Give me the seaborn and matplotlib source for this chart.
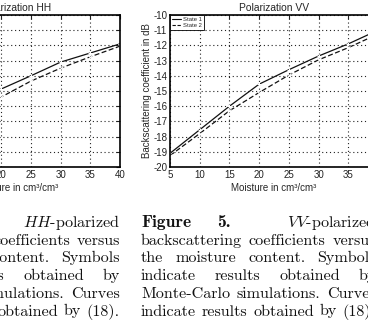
import numpy as np
import pandas as pd
import seaborn as sns
import matplotlib.pyplot as plt
from matplotlib.lines import Line2D

# --------------------------- DATA ---------------------------
moisture = [5, 10, 15, 20, 25, 30, 35, 40]
hh_state1 = [-19.4, -17.6, -16.1, -14.87, -14.0, -13.1, -12.5, -11.9]
hh_state2 = [-19.6, -17.9, -16.5, -15.4, -14.35, -13.5, -12.75, -12.05]
vv_state1 = [-19.1, -17.55, -16.0, -14.55, -13.6, -12.7, -11.9, -11.0]
vv_state2 = [-19.25, -17.8, -16.3, -15.1, -13.95, -12.95, -12.15, -11.25]
states = ['State 1', 'State 2']
x_ticks = [5, 10, 15, 20, 25, 30, 35, 40]
y_ticks = [-20, -19, -18, -17, -16, -15, -14, -13, -12, -11, -10]

# caption text (same body for both figures, justified lines)
caption_body = [
    'backscattering coefficients versus',
    'the moisture content. Symbols',
    'indicate results obtained by',
    'Monte-Carlo simulations. Curves',
    'indicate results obtained by (18).',
]
caption_head_left = ['Figure', '4.', '$HH$-polarized']
caption_head_right = ['Figure', '5.', '$VV$-polarized']

# --------------------------- STYLE ---------------------------
sns.set_style('white')
plt.rcParams['font.family'] = ['Liberation Sans', 'DejaVu Sans']
plt.rcParams['axes.unicode_minus'] = False
plt.rcParams['mathtext.fontset'] = 'cm'

W, H = 368, 324
fig = plt.figure(figsize=(W / 100, H / 100), dpi=100)


def px_axes(x0, x1, y_top, y_bot):
    return fig.add_axes([x0 / W, 1 - y_bot / H, (x1 - x0) / W, (y_bot - y_top) / H])


def draw_panel(ax, s1, s2, title):
    df = pd.DataFrame({
        'Moisture': moisture * 2,
        'Coef': s1 + s2,
        'State': [states[0]] * len(moisture) + [states[1]] * len(moisture),
    })
    sns.lineplot(data=df, x='Moisture', y='Coef', hue='State', style='State',
                 palette=['#111111', '#111111'], markers=['+', 'x'],
                 dashes=['', (4, 2)], markersize=3.5, linewidth=0.9,
                 legend=False, ax=ax)
    ax.set_xlim(5, 40)
    ax.set_ylim(-20, -10)
    ax.set_xticks(x_ticks)
    ax.set_yticks(y_ticks)
    ax.grid(True, linestyle=(0, (1, 2.5)), color='#222222', linewidth=0.8)
    for sp in ax.spines.values():
        sp.set_linewidth(1.2)
        sp.set_color('black')
    ax.tick_params(direction='in', length=3, width=0.8, labelsize=7, pad=2,
                   top=True, right=True, colors='#222222')
    ax.set_title(title, fontsize=7.4, pad=3)
    ax.set_xlabel('Moisture in cm³/cm³', fontsize=7, labelpad=2)
    ax.set_ylabel('Backscattering coefficient in dB', fontsize=7, labelpad=1)
    handles = [Line2D([], [], color='#111111', lw=0.8),
               Line2D([], [], color='#111111', lw=0.8, dashes=(3, 1.5))]
    leg = ax.legend(handles, states, loc='upper left', fontsize=4.2,
                    handlelength=1.6, handletextpad=0.3, borderpad=0.3,
                    labelspacing=0.2, borderaxespad=0, fancybox=False,
                    framealpha=1)
    leg.get_frame().set_edgecolor('black')
    leg.get_frame().set_linewidth(0.6)


ax_hh = px_axes(-88, 120, 15, 167)
draw_panel(ax_hh, hh_state1, hh_state2, 'Polarization HH')

ax_vv = px_axes(170, 378, 15, 167)
draw_panel(ax_vv, vv_state1, vv_state2, 'Polarization VV')

# --------------------------- CAPTIONS ---------------------------
renderer = fig.canvas.get_renderer()
cap_size = 11.6
base0, step = 227, 17.7


def put(text, x, y, ha='left', bold=False):
    return fig.text(x / W, 1 - y / H, text, ha=ha, va='baseline',
                    fontsize=12.6 if bold else cap_size,
                    family='cmb10' if bold else 'cmr10', color='#111111')


def justify(words, x0, x1, y):
    texts = [put(w, 0, y) for w in words]
    widths = [t.get_window_extent(renderer).width for t in texts]
    gap = (x1 - x0 - sum(widths)) / (len(words) - 1)
    x = x0
    for t, w in zip(texts, widths):
        t.set_x(x / W)
        x += w + gap


for (x0, x1), head in (((-115, 120), caption_head_left),
                       ((141, 376), caption_head_right)):
    put(head[0], x0, base0, bold=True)
    put(head[1], x0 + 76, base0, bold=True)
    put(head[2], x1, base0, ha='right')
    for i, line in enumerate(caption_body):
        justify(line.split(), x0, x1, base0 + (i + 1) * step)

fig.savefig('out.png', dpi=100)
